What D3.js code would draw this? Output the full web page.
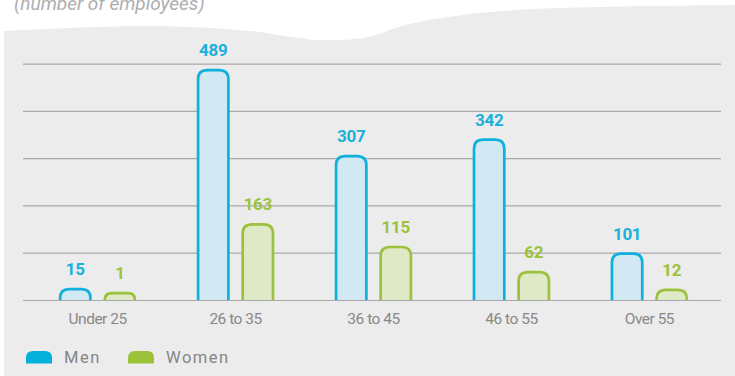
<!DOCTYPE html>
<html>
<head>
<meta charset="utf-8">
<script src="https://cdn.jsdelivr.net/npm/d3@7"></script>
<style>
  html, body { margin: 0; padding: 0; background: #ffffff; }
  svg { display: block; }
  text { font-family: Roboto, "Noto Sans", sans-serif; }
</style>
</head>
<body>
<svg id="chart" width="735" height="376"></svg>
<script>
// Workforce by age band, split by gender
const categories = ["Under 25", "26 to 35", "36 to 45", "46 to 55", "Over 55"];
const seriesNames = ["Men", "Women"];
const menValues = [15, 489, 307, 342, 101];
const womenValues = [1, 163, 115, 62, 12];
const gridTicks = [0, 100, 200, 300, 400, 500];
const subtitle = "(number of employees)";

const seriesValues = { Men: menValues, Women: womenValues };
const palette = {
  Men:   { stroke: "#0fb1dc", fill: "#d2e9f3", label: "#19b0dc", swatch: "#03b0da" },
  Women: { stroke: "#9cc13a", fill: "#dfe9c6", label: "#9dc23a", swatch: "#9cc23a" }
};

const svg = d3.select("#chart");
const W = 735, H = 376;

// Grey panel with a gently waving top edge
const wave = [[4, 31], [150, 26], [250, 31], [320, 40], [368, 37], [405, 25], [455, 16], [515, 10], [600, 7], [735, 5]];
const waveLine = d3.line().curve(d3.curveCatmullRom.alpha(0.5));
const panelPath = waveLine(wave) + ` L${W},${H} L4,${H} Z`;
svg.append("path").attr("d", panelPath).attr("fill", "#ececec");

// Subtitle, running off the top edge
svg.append("text")
  .attr("x", 14).attr("y", 10)
  .attr("font-size", 19).attr("font-style", "italic")
  .attr("fill", "#aeaeae")
  .text(subtitle);

// Scales
const x0 = d3.scaleBand().domain(categories).range([28.6, 718.4]).paddingInner(0).paddingOuter(0);
const x1 = d3.scalePoint().domain(seriesNames).range([-22.3, 22.3]);
const y = d3.scaleLinear().domain([0, 500]).range([300, 63.6]);

// Gridlines (including baseline)
const grid = svg.append("g")
  .attr("transform", "translate(23,0)")
  .call(d3.axisLeft(y).tickValues(gridTicks).tickSize(-(721 - 23)).tickFormat(""));
grid.select(".domain").remove();
grid.selectAll(".tick line").attr("stroke", "#a9a9a9").attr("stroke-width", 1.2);

// Category labels
const xAxis = svg.append("g")
  .attr("transform", "translate(0,300)")
  .call(d3.axisBottom(x0).tickSize(0).tickPadding(0));
xAxis.select(".domain").remove();
xAxis.selectAll(".tick text")
  .attr("y", 24).attr("dy", 0)
  .attr("font-size", 15.5).attr("letter-spacing", "-0.5px")
  .attr("font-family", "Roboto, sans-serif")
  .attr("fill", "#888888");

// Bar with rounded top corners; the bottom is left open on the baseline
const barW = 33, sw = 2.7, maxR = 9;
function barPath(cx, top, base) {
  const l = cx - barW / 2 + sw / 2, r = cx + barW / 2 - sw / 2;
  const t = top + sw / 2;
  const rad = Math.min(maxR, base - t);
  return `M${l},${base} L${l},${t + rad} Q${l},${t} ${l + rad},${t} L${r - rad},${t} Q${r},${t} ${r},${t + rad} L${r},${base}`;
}
// Very small values keep a visible cap height
function barTop(v) {
  const h = y(0) - y(v);
  return y(0) - Math.max(h, 8 + h * 0.6);
}

const rows = [];
categories.forEach((c, i) => {
  seriesNames.forEach(s => rows.push({ category: c, series: s, value: seriesValues[s][i] }));
});

const bars = svg.append("g");
bars.selectAll("path")
  .data(rows)
  .join("path")
  .attr("d", d => barPath(x0(d.category) + x0.bandwidth() / 2 + x1(d.series), barTop(d.value), y(0)))
  .attr("fill", d => palette[d.series].fill)
  .attr("stroke", d => palette[d.series].stroke)
  .attr("stroke-width", sw)
  .attr("stroke-linejoin", "round");

// Value labels
svg.append("g").selectAll("text")
  .data(rows)
  .join("text")
  .attr("x", d => x0(d.category) + x0.bandwidth() / 2 + x1(d.series))
  .attr("y", d => barTop(d.value) - 12.5)
  .attr("text-anchor", "middle")
  .attr("font-size", 17).attr("font-weight", 700).attr("letter-spacing", "-0.3px")
  .attr("fill", d => palette[d.series].label)
  .text(d => d.value);

// Legend
const legendX = { Men: 26, Women: 128 };
const legend = svg.append("g").selectAll("g")
  .data(seriesNames)
  .join("g")
  .attr("transform", d => `translate(${legendX[d]},351)`);
legend.append("path")
  .attr("d", "M0,12.5 L0,7 Q0,0 7,0 L19,0 Q26,0 26,7 L26,12.5 Z")
  .attr("fill", d => palette[d].swatch);
legend.append("text")
  .attr("x", 38).attr("y", 12.3)
  .attr("font-size", 16.5).attr("letter-spacing", "1.5px")
  .attr("fill", "#858585")
  .text(d => d);
</script>
</body>
</html>
